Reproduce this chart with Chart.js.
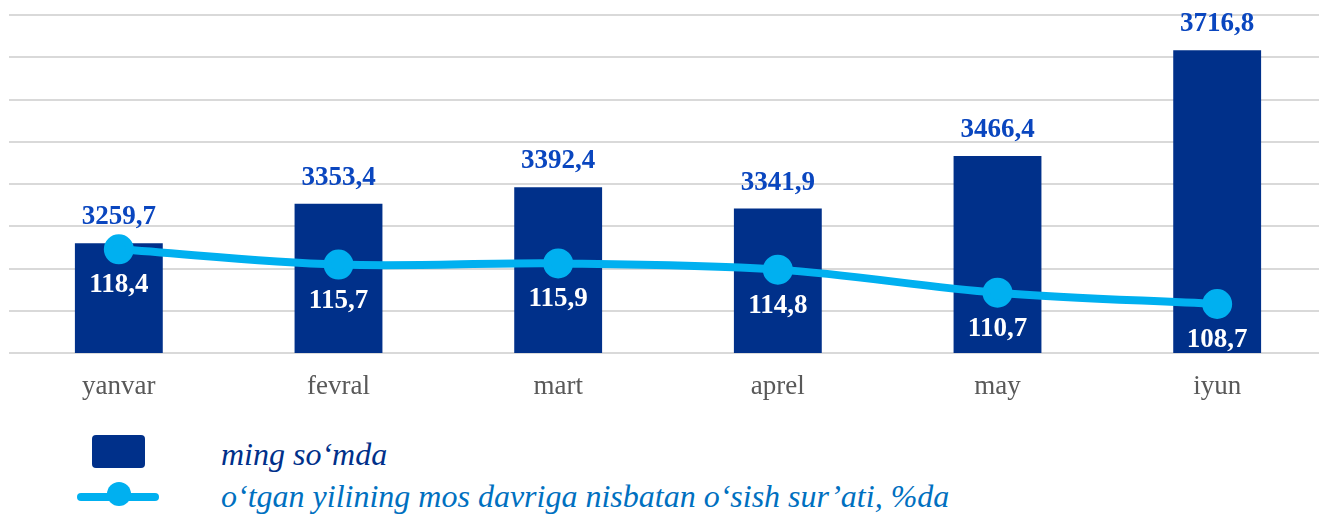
<!DOCTYPE html>
<html>
<head>
<meta charset="utf-8">
<script src="https://cdn.jsdelivr.net/npm/chart.js@4"></script>
<style>
  html, body { margin: 0; padding: 0; background: #fff; overflow: hidden; }
  #wrap { position: relative; width: 1319px; height: 516px; overflow: hidden; }
  #box { position: absolute; left: -10px; top: -4px; width: 1356px; height: 424px; }
  .leg { position: absolute; font-family: "Liberation Serif", serif; font-style: italic; font-size: 32px; white-space: nowrap; }
  #sw1 { position: absolute; left: 92px; top: 435px; width: 53px; height: 33px; background: #00308a; border-radius: 4px; }
  #sw2 { position: absolute; left: 77px; top: 493px; width: 82px; height: 8px; background: #00b0f0; border-radius: 4px; }
  #sw2dot { position: absolute; left: 107px; top: 482px; width: 24px; height: 24px; background: #00b0f0; border-radius: 50%; }
</style>
</head>
<body>
<div id="wrap">
  <div id="box"><canvas id="chart"></canvas></div>
  <div id="sw1"></div>
  <div id="sw2"></div><div id="sw2dot"></div>
  <div class="leg" id="leg1" style="left:221px; top:436px; color:#00308a;">ming so‘mda</div>
  <div class="leg" id="leg2" style="left:221px; top:478px; color:#0070c0;">o‘tgan yilining mos davriga nisbatan o‘sish sur’ati, %da</div>
</div>
<script>
// months
const months = ['yanvar', 'fevral', 'mart', 'aprel', 'may', 'iyun'];
// ming so'mda
const amounts = [3259.7, 3353.4, 3392.4, 3341.9, 3466.4, 3716.8];
// growth rate vs same period of last year, %
const growth = [118.4, 115.7, 115.9, 114.8, 110.7, 108.7];

const fmt = v => v.toFixed(1).replace('.', ',');

// draws value labels: blue above bars, white below line points
const valueLabels = {
    id: 'valueLabels',
    afterDatasetsDraw(chart) {
        const ctx = chart.ctx;
        ctx.save();
        ctx.font = 'bold 27px "Liberation Serif"';
        ctx.textAlign = 'center';
        ctx.textBaseline = 'middle';

        chart.getDatasetMeta(0).data.forEach((bar, i) => {
            ctx.fillStyle = '#0a46bf';
            ctx.fillText(fmt(amounts[i]), bar.x, bar.y - 26);
        });
        chart.getDatasetMeta(1).data.forEach((pt, i) => {
            ctx.fillStyle = '#ffffff';
            ctx.fillText(fmt(growth[i]), pt.x, pt.y + 36);
        });
        ctx.restore();
    }
};

new Chart(document.getElementById('chart'), {
    data: {
        labels: months,
        datasets: [
            {
                type: 'bar',
                label: 'ming so‘mda',
                data: amounts,
                backgroundColor: '#00308a',
                barPercentage: 0.4,
                categoryPercentage: 1,
                yAxisID: 'y',
                order: 2
            },
            {
                type: 'line',
                label: 'o‘tgan yilining mos davriga nisbatan o‘sish sur’ati, %da',
                data: growth,
                borderColor: '#00b0f0',
                backgroundColor: '#00b0f0',
                borderWidth: 8,
                pointRadius: 11,
                pointHoverRadius: 11,
                tension: 0.35,
                yAxisID: 'y1',
                order: 1
            }
        ]
    },
    options: {
        responsive: true,
        maintainAspectRatio: false,
        animation: false,
        layout: { padding: { left: 0, right: 0, top: 10, bottom: 0 } },
        plugins: {
            legend: { display: false },
            tooltip: { enabled: false }
        },
        scales: {
            x: {
                grid: { display: false },
                border: { display: false },
                ticks: {
                    color: '#595959',
                    font: { family: '"Liberation Serif"', size: 27 },
                    padding: 10
                },
                afterFit: s => { s.height = 67; }
            },
            y: {
                min: 3000,
                max: 3800,
                ticks: { display: false, stepSize: 100 },
                grid: { color: '#d9d9d9', lineWidth: 2, drawTicks: false },
                border: { display: false },
                afterFit: s => { s.width = 0; }
            },
            y1: {
                display: false,
                min: 100,
                max: 160
            }
        }
    },
    plugins: [valueLabels]
});
</script>
</body>
</html>
